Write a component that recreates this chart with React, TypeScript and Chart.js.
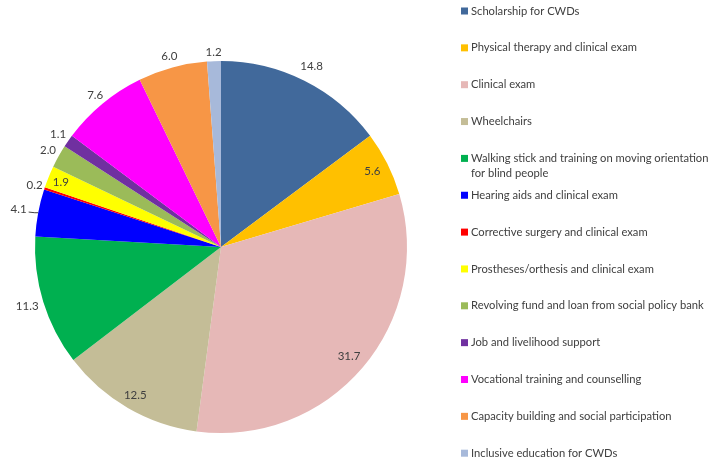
import React, { useEffect, useRef } from "react";
import { Chart, registerables } from "chart.js";

Chart.register(...registerables);

const categories: string[] = [
  "Scholarship for CWDs",
  "Physical therapy and clinical exam",
  "Clinical exam",
  "Wheelchairs",
  "Walking stick and training on moving orientation for blind people",
  "Hearing aids and clinical exam",
  "Corrective surgery and clinical exam",
  "Prostheses/orthesis and clinical exam",
  "Revolving fund and loan from social policy bank",
  "Job and livelihood support",
  "Vocational training and counselling",
  "Capacity building and social participation",
  "Inclusive education for CWDs",
];

const values: number[] = [14.8, 5.6, 31.7, 12.5, 11.3, 4.1, 0.2, 1.9, 2.0, 1.1, 7.6, 6.0, 1.2];

const colors: string[] = [
  "#41699B",
  "#FFC000",
  "#E6B8B7",
  "#C4BD97",
  "#00B050",
  "#0000FF",
  "#FF0000",
  "#FFFF00",
  "#9BBB59",
  "#7030A0",
  "#FF00FF",
  "#F79646",
  "#A7B9DA",
];

// label distance from centre, as a fraction of the pie radius
const labelRadius: number[] = [1.086, 0.91, 0.905, 0.92, 1.09, 1.107, 1.056, 0.93, 1.065, 1.066, 1.061, 1.064, 1.05];
const leaderLines: boolean[] = [false, false, false, false, false, true, false, false, false, false, false, false, false];

const FONT = "Lato, 'Open Sans', sans-serif";

const labelPlugin = {
  id: "pieLabels",
  afterDatasetsDraw(chart: any) {
    const ctx = chart.ctx;
    const meta = chart.getDatasetMeta(0);
    ctx.save();
    ctx.font = `11.5px ${FONT}`;
    ctx.fillStyle = "#404040";
    ctx.textAlign = "center";
    ctx.textBaseline = "middle";
    meta.data.forEach((arc: any, i: number) => {
      const p = arc.getProps(["x", "y", "startAngle", "endAngle", "outerRadius"], true);
      const mid = (p.startAngle + p.endAngle) / 2;
      const r = p.outerRadius * labelRadius[i];
      const lx = p.x + Math.cos(mid) * r;
      const ly = p.y + Math.sin(mid) * r;
      const txt = values[i].toFixed(1);
      ctx.fillText(txt, lx, ly);
      if (leaderLines[i]) {
        const w = ctx.measureText(txt).width;
        const ex = p.x + Math.cos(mid) * p.outerRadius;
        const ey = p.y + Math.sin(mid) * p.outerRadius;
        const sx = lx + w / 2 + 2;
        const sy = ly + 3;
        ctx.beginPath();
        ctx.strokeStyle = "#404040";
        ctx.lineWidth = 1;
        ctx.moveTo(sx, sy);
        ctx.quadraticCurveTo(ex - 2, sy + 1, ex, ey);
        ctx.stroke();
      }
    });
    ctx.restore();
  },
};

const legendPlugin = {
  id: "sideLegend",
  afterDraw(chart: any) {
    const ctx = chart.ctx;
    ctx.save();
    ctx.font = `11.2px ${FONT}`;
    ctx.textBaseline = "middle";
    ctx.textAlign = "left";
    const x0 = 461;
    const tx = 471;
    const maxW = 245;
    const step = 36.85;
    categories.forEach((label, i) => {
      const y = 11 + step * i;
      ctx.fillStyle = colors[i];
      ctx.fillRect(x0, y - 3.5, 7, 7);
      ctx.fillStyle = "#404040";
      const words = label.split(" ");
      const lines: string[] = [];
      let cur = "";
      words.forEach((w) => {
        const test = cur ? cur + " " + w : w;
        if (ctx.measureText(test).width > maxW && cur) {
          lines.push(cur);
          cur = w;
        } else {
          cur = test;
        }
      });
      if (cur) lines.push(cur);
      lines.forEach((ln, j) => ctx.fillText(ln, tx, y + j * 14.5));
    });
    ctx.restore();
  },
};

export default function App() {
  const ref = useRef<HTMLCanvasElement | null>(null);
  useEffect(() => {
    if (!ref.current) return;
    const chart = new Chart(ref.current, {
      type: "pie",
      data: {
        labels: categories,
        datasets: [
          {
            data: values,
            backgroundColor: colors,
            borderWidth: 0,
          },
        ],
      },
      options: {
        responsive: false,
        animation: false,
        layout: { padding: { left: 35, right: 306, top: 61, bottom: 30 } },
        plugins: {
          legend: { display: false },
          tooltip: { enabled: false },
        },
      },
      plugins: [labelPlugin, legendPlugin],
    });
    return () => chart.destroy();
  }, []);
  return (
    <div style={{ position: "fixed", left: 0, top: 0, width: 713, height: 463, background: "#fff" }}>
      <canvas ref={ref} width={713} height={463} style={{ display: "block" }} />
    </div>
  );
}
